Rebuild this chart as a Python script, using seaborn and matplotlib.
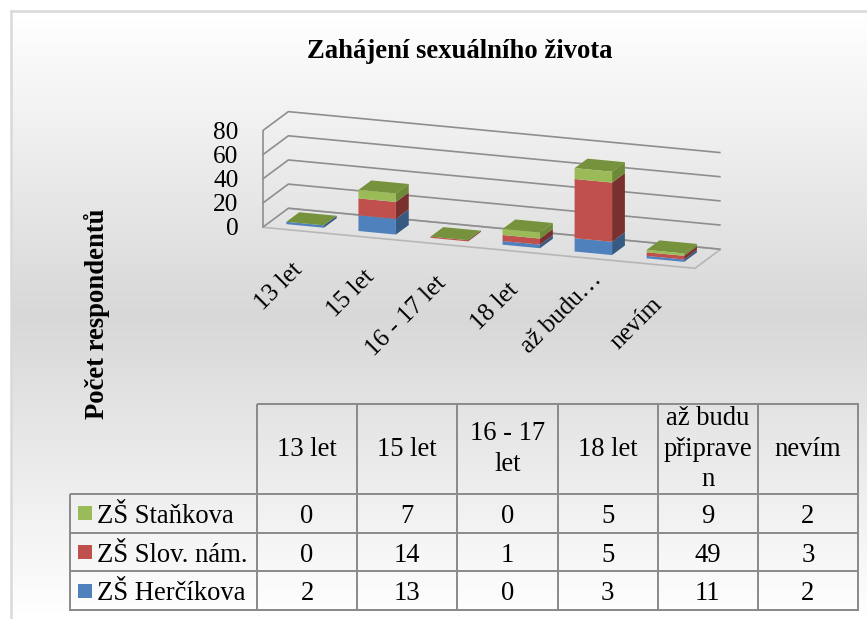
import numpy as np
import pandas as pd
import matplotlib
matplotlib.use("Agg")
import matplotlib.pyplot as plt
from matplotlib.colors import ListedColormap
from mpl_toolkits.mplot3d import proj3d
import seaborn as sns

# ============================
# DATA
# ============================

CATEGORIES = ["13 let", "15 let", "16 - 17 let", "18 let", "až budu…", "nevím"]
HEADER_LABELS = ["13 let", "15 let", "16 - 17\nlet", "18 let", "až budu\npřiprave\nn", "nevím"]
SERIES = ["ZŠ Herčíkova", "ZŠ Slov. nám.", "ZŠ Staňkova"]
HERCIKOVA = [2, 13, 0, 3, 11, 2]
SLOV_NAM = [0, 14, 1, 5, 49, 3]
STANKOVA = [0, 7, 0, 5, 9, 2]
Z_TICKS = [0, 20, 40, 60, 80]

TITLE = "Zahájení sexuálního života"
YLABEL = "Počet respondentů"

# ============================
# STYLE
# ============================

W, H = 867, 619
GRID = "#8E8E8E"
FRONT = ["#4F81BD", "#C0504D", "#9BBB59"]
SIDE = ["#375A83", "#7A302E", "#6D8A38"]
TOP = "#76923C"
FS = 19.2
TICK_FS = 18.2
BOX = (459, 76.2, 100.2)

sns.set_theme(style="white", rc={"grid.color": GRID, "grid.linewidth": 1.2})
plt.rcParams["font.family"] = ["Liberation Serif", "DejaVu Serif"]

fig = plt.figure(figsize=(W / 100, H / 100), dpi=100, facecolor="white")


def px_axes(x0, y0, x1, y1, **kwargs):
    # axes from pixel box, y measured from the top of the image
    return fig.add_axes([x0 / W, 1 - y1 / H, (x1 - x0) / W, (y1 - y0) / H], **kwargs)


# background gradient and frame
bg = px_axes(11, 11, W + 2, H + 2)
cmap_bg = sns.blend_palette(["#FFFFFF", "#D8D8D8", "#FFFFFF"], as_cmap=True)
bg.imshow(np.linspace(0, 1, 256)[:, None], cmap=cmap_bg, aspect="auto", vmin=0, vmax=1)
bg.set_xticks([])
bg.set_yticks([])
for side in ["right", "bottom"]:
    bg.spines[side].set_visible(False)
for side in ["left", "top"]:
    bg.spines[side].set_color("#D9D9D9")
    bg.spines[side].set_linewidth(1.8)

# ============================
# 3D STACKED BARS
# ============================

# axes box has to be wide enough, the bars get clipped to it
ax = fig.add_axes([0.1, 0.0, 0.8, 1.0], projection="3d")
ax.patch.set_alpha(0)
ax.set_proj_type("ortho")
ax.view_init(elev=15.38, azim=-70.33)
ax.set_xlim(0, len(CATEGORIES), view_margin=0)
ax.set_ylim(0, 1, view_margin=0)
ax.set_zlim(Z_TICKS[0], Z_TICKS[-1], view_margin=0)
ax.set_box_aspect(BOX, zoom=1.0)

BAR_W = 0.52
BAR_Y = 0.25
BAR_D = 0.5
xpos = np.arange(len(CATEGORIES)) + (1 - BAR_W) / 2
bottom = np.zeros(len(CATEGORIES))
none = (0, 0, 0, 0)
for i, values in enumerate([HERCIKOVA, SLOV_NAM, STANKOVA]):
    # face order in bar3d: -z, +z, -y, +y, -x, +x
    top_face = TOP if i == 2 else none
    faces = [none, top_face, FRONT[i], none, none, SIDE[i]] * len(values)
    faces = matplotlib.colors.to_rgba_array(faces)
    ax.bar3d(xpos, np.full(len(values), BAR_Y), bottom, BAR_W, BAR_D, values,
             color=faces, shade=False, edgecolor="none")
    bottom = bottom + np.array(values)

ax.grid(True)
ax.set_xticks([])
ax.set_yticks([])
ax.set_zticks(Z_TICKS)
ax.set_zticklabels([])
ax.zaxis._axinfo["tick"]["inward_factor"] = 0
ax.zaxis._axinfo["tick"]["outward_factor"] = 0
for axis in [ax.xaxis, ax.yaxis, ax.zaxis]:
    axis.line.set_color(none)
    axis.pane.fill = False
    axis.pane.set_linewidth(0)
ax.zaxis.pane.set_edgecolor(GRID)
ax.zaxis.pane.set_linewidth(1.2)
ax.plot([0, 0], [0, 0], [Z_TICKS[0], Z_TICKS[-1]], color=GRID, lw=1.2, clip_on=False)


def corner_px(x, y, z):
    xp, yp, _ = proj3d.proj_transform(x, y, z, ax.get_proj())
    return ax.transData.transform((xp, yp))


# fit the projected floor onto the reference position
fig.canvas.draw()
a = corner_px(0, 0, 0)
b = corner_px(len(CATEGORIES), 0, 0)
ax.set_box_aspect(BOX, zoom=432.3 / (b[0] - a[0]))
fig.canvas.draw()
a = corner_px(0, 0, 0)
pos = ax.get_position(original=True)
ax.set_position([pos.x0 + (262.7 - a[0]) / W, pos.y0 + ((H - 227.3) - a[1]) / H, pos.width, pos.height])
fig.canvas.draw()


def label_3d(text, x, y, z, dx, dy, **kwargs):
    xp, yp, _ = proj3d.proj_transform(x, y, z, ax.get_proj())
    ax.annotate(text, (xp, yp), xytext=(dx, dy), textcoords="offset pixels",
                fontsize=TICK_FS, color="black", annotation_clip=False, **kwargs)


for tick in Z_TICKS:
    label_3d(str(tick), 0, 0, tick, -24, -2, ha="right", va="center")
for i, cat in enumerate(CATEGORIES):
    # the cut label sits further along its diagonal in the reference
    cut = cat.endswith("…")
    label_3d(cat, i + 0.5, 0, 0, 4 if cut else -8, -10 if cut else -28, ha="right", va="top",
             rotation=45, rotation_mode="anchor")

fig.text(460 / W, 1 - 52 / H, TITLE, ha="center", va="center", fontsize=FS, fontweight="bold", color="black")
fig.text(97 / W, 1 - 314 / H, YLABEL, ha="center", va="center", rotation=90,
         fontsize=FS, fontweight="bold", color="black")

# ============================
# DATA TABLE
# ============================

clear = ListedColormap([(1, 1, 1, 0)])
LINE = "#8C8C8C"
df = pd.DataFrame({"s": STANKOVA, "n": SLOV_NAM, "h": HERCIKOVA}, index=CATEGORIES).T
cell_style = dict(cmap=clear, cbar=False, linewidths=1.2, linecolor=LINE,
                  xticklabels=False, yticklabels=False, vmin=0, vmax=1)
annot_style = {"color": "black", "fontsize": FS, "va": "center_baseline"}
head_style = {"color": "black", "fontsize": FS, "va": "center", "linespacing": 1.28}

body = px_axes(257, 494, 858, 610, facecolor="none")
sns.heatmap(df, annot=True, fmt="d", annot_kws=annot_style, ax=body, **cell_style)

head = px_axes(257, 404, 858, 494, facecolor="none")
sns.heatmap(np.zeros((1, 6)), annot=np.array([HEADER_LABELS]), fmt="", annot_kws=head_style, ax=head, **cell_style)

rows = px_axes(70, 494, 257, 610, facecolor="none")
sns.heatmap(np.zeros((3, 1)), ax=rows, **cell_style)
for i, name in enumerate(reversed(SERIES)):
    rows.scatter([0.08], [i + 0.5], marker="s", s=105, color=FRONT[2 - i], linewidths=0)
    rows.text(0.144, i + 0.5, name, ha="left", va="center_baseline", fontsize=FS, color="black")

for table_ax in [body, head, rows]:
    table_ax.collections[0].set_clip_on(False)
    table_ax.set_xlabel("")
    table_ax.set_ylabel("")
    for spine in table_ax.spines.values():
        spine.set_visible(False)

fig.savefig("out.png", dpi=100)
